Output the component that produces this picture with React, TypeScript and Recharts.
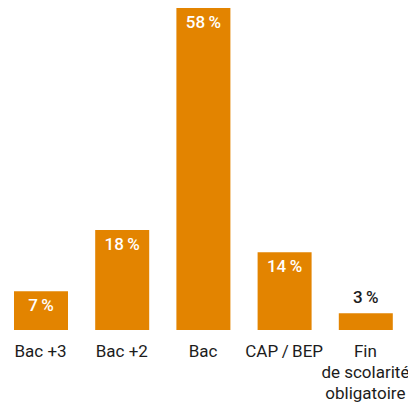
import { BarChart, Bar, XAxis, YAxis, LabelList } from "recharts";

const categories = ["Bac +3", "Bac +2", "Bac", "CAP\u2009/\u2009BEP", "Fin\nde scolarité\nobligatoire"];
const shares = [7, 18, 58, 14, 3];

const data = categories.map((name, i) => ({ name, value: shares[i] }));

const ORANGE = "#E38400";
const INK = "#1c1c1c";

function CategoryTick({ x, y, payload }: any) {
  const lines = String(payload.value).split("\n");
  return (
    <text x={x} y={y} textAnchor="middle" fill={INK} fontSize={17} fontFamily="Roboto">
      {lines.map((line, i) => (
        <tspan key={i} x={x} dy={i === 0 ? 19 : 21}>
          {line}
        </tspan>
      ))}
    </text>
  );
}

function ValueLabel({ x, y, width, value }: any) {
  const small = value < 5;
  return (
    <text
      x={x + width / 2}
      y={small ? y - 10 : y + 20}
      textAnchor="middle"
      fill={small ? INK : "#ffffff"}
      fontSize={17}
      fontWeight={500}
      fontFamily="Roboto"
    >
      {value}{"\u2009"}%
    </text>
  );
}

export default function App() {
  return (
    <div style={{ position: "absolute", left: 0, top: 0, width: 408, height: 405, background: "#fff" }}>
      <BarChart
        width={408}
        height={405}
        data={data}
        margin={{ top: 8, right: 2, left: 0, bottom: 0 }}
      >
        <XAxis
          dataKey="name"
          axisLine={false}
          tickLine={false}
          height={75}
          interval={0}
          tick={<CategoryTick />}
        />
        <YAxis hide domain={[0, 58]} />
        <Bar dataKey="value" fill={ORANGE} barSize={54} isAnimationActive={false}>
          <LabelList dataKey="value" content={<ValueLabel />} />
        </Bar>
      </BarChart>
    </div>
  );
}
